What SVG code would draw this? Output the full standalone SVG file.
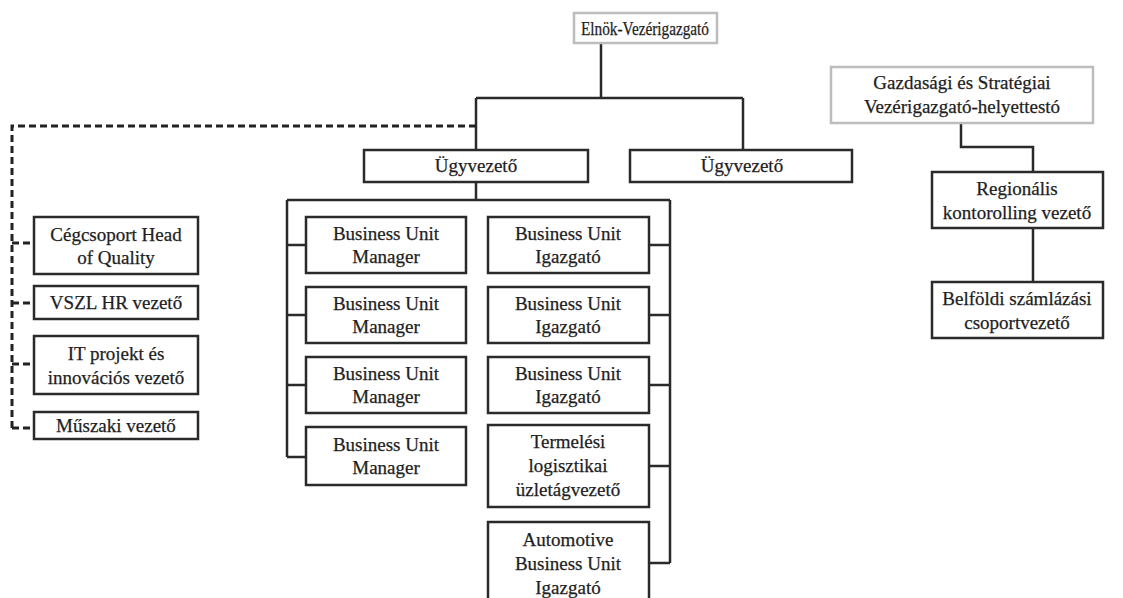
<svg xmlns="http://www.w3.org/2000/svg" width="1123" height="598" viewBox="0 0 1123 598">
<style>
.box{fill:#fff;stroke:#2a2a2a;stroke-width:2.5}
.gbox{fill:#fff;stroke:#bdbdbd;stroke-width:2.5}
.t{font-family:"Liberation Serif","Times New Roman",serif;font-size:19px;fill:#1e1e1e;text-anchor:middle;stroke:#1e1e1e;stroke-width:0.25}
.ln{fill:none;stroke:#2a2a2a;stroke-width:2.5}
.dl{fill:none;stroke:#222;stroke-width:3;stroke-dasharray:7 4}
</style>
<rect width="1123" height="598" fill="#fff"/>
<g id="connectors">
<path class="ln" d="M601 43 V98 M476 98 H743 M476 98 V149 M743 98 V150"/>
<path class="ln" d="M476 182 V200 M287 200 H670"/>
<path class="ln" d="M287 200 V457 M287 245 H306 M287 315 H306 M287 385 H306 M287 457 H306"/>
<path class="ln" d="M670 200 V563 M649 245 H670 M649 315 H670 M649 385 H670 M649 466 H670 M649 563 H670"/>
<path class="ln" d="M961 123 V147 H1033 V172 M1033 228 V282"/>
<path class="dl" d="M476 126 H12 V428"/>
<path class="dl" d="M12 243 H34 M12 303 H34 M12 364 H34 M12 428 H34"/>
</g>
<g id="n-elnok"><rect class="gbox" x="574" y="13" width="143" height="30"/><text class="t" x="645" y="35" font-size="20" textLength="128" lengthAdjust="spacingAndGlyphs">Elnök-Vezérigazgató</text></g>
<g id="n-ugyv1"><rect class="box" x="364" y="150" width="224" height="32"/><text class="t" x="476" y="172">Ügyvezető</text></g>
<g id="n-ugyv2"><rect class="box" x="630" y="150" width="222" height="32"/><text class="t" x="742" y="172">Ügyvezető</text></g>
<g id="n-gazd"><rect class="gbox" x="831" y="67" width="262" height="56"/><text class="t" x="962" y="89">Gazdasági és Stratégiai</text><text class="t" x="962" y="113">Vezérigazgató-helyettestó</text></g>
<g id="n-reg"><rect class="box" x="932" y="172" width="171" height="56"/><text class="t" x="1017" y="195">Regionális</text><text class="t" x="1017" y="219">kontorolling vezető</text></g>
<g id="n-belf"><rect class="box" x="932" y="282" width="171" height="56"/><text class="t" x="1017" y="305">Belföldi számlázási</text><text class="t" x="1017" y="329">csoportvezető</text></g>
<g id="n-ceg"><rect class="box" x="34" y="217" width="164" height="57"/><text class="t" x="116" y="241">Cégcsoport Head</text><text class="t" x="116" y="264">of Quality</text></g>
<g id="n-vszl"><rect class="box" x="34" y="286" width="164" height="33"/><text class="t" x="116" y="309">VSZL HR vezető</text></g>
<g id="n-it"><rect class="box" x="34" y="336" width="164" height="58"/><text class="t" x="116" y="360">IT projekt és</text><text class="t" x="116" y="384">innovációs vezető</text></g>
<g id="n-musz"><rect class="box" x="34" y="412" width="164" height="27"/><text class="t" x="116" y="432">Műszaki vezető</text></g>
<g id="n-bum1"><rect class="box" x="306" y="217" width="160" height="56"/><text class="t" x="386" y="240">Business Unit</text><text class="t" x="386" y="263">Manager</text></g>
<g id="n-bum2"><rect class="box" x="306" y="287" width="160" height="56"/><text class="t" x="386" y="310">Business Unit</text><text class="t" x="386" y="333">Manager</text></g>
<g id="n-bum3"><rect class="box" x="306" y="357" width="160" height="56"/><text class="t" x="386" y="380">Business Unit</text><text class="t" x="386" y="403">Manager</text></g>
<g id="n-bum4"><rect class="box" x="306" y="427" width="160" height="58"/><text class="t" x="386" y="451">Business Unit</text><text class="t" x="386" y="474">Manager</text></g>
<g id="n-bui1"><rect class="box" x="488" y="217" width="161" height="56"/><text class="t" x="568" y="240">Business Unit</text><text class="t" x="568" y="263">Igazgató</text></g>
<g id="n-bui2"><rect class="box" x="488" y="287" width="161" height="56"/><text class="t" x="568" y="310">Business Unit</text><text class="t" x="568" y="333">Igazgató</text></g>
<g id="n-bui3"><rect class="box" x="488" y="357" width="161" height="56"/><text class="t" x="568" y="380">Business Unit</text><text class="t" x="568" y="403">Igazgató</text></g>
<g id="n-term"><rect class="box" x="488" y="425" width="161" height="82"/><text class="t" x="568" y="448">Termelési</text><text class="t" x="568" y="472">logisztikai</text><text class="t" x="568" y="496">üzletágvezető</text></g>
<g id="n-auto"><rect class="box" x="488" y="522" width="161" height="80"/><text class="t" x="568" y="546">Automotive</text><text class="t" x="568" y="570">Business Unit</text><text class="t" x="568" y="594">Igazgató</text></g>
</svg>
